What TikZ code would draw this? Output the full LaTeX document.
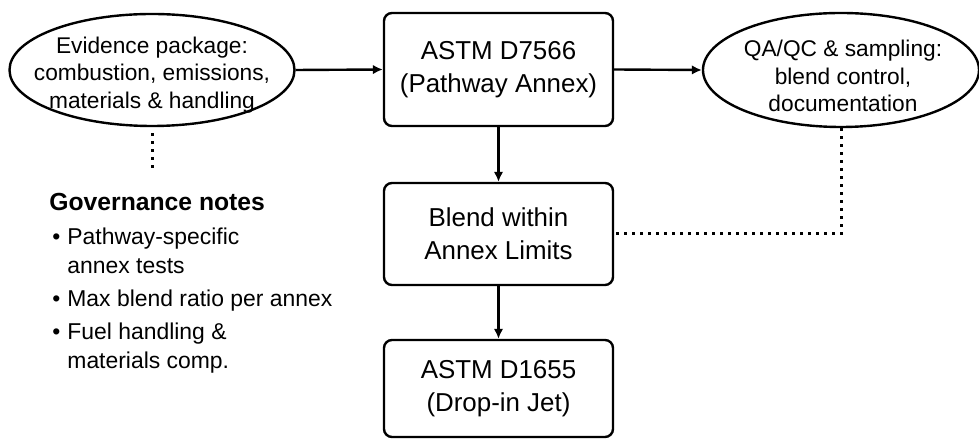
\documentclass[tikz,border=0pt]{standalone}
\usepackage{fontspec}
\setmainfont{Liberation Sans}
\usetikzlibrary{arrows.meta,shapes.geometric}

\tikzset{
  stdbox/.style={draw,line width=1.2bp,rounded corners=4bp,minimum width=114.5bp,
    align=center,inner sep=0pt,font=\fontsize{13}{16.5}\selectfont},
  oval/.style={draw,ellipse,line width=1.2bp,inner sep=0pt},
  ovaltext/.style={align=center,inner sep=0pt,font=\fontsize{11.4}{13.8}\selectfont},
  flow/.style={line width=1.2bp,-{Latex[length=5bp,width=4.8bp]}},
  dots/.style={line width=1.5bp,dash pattern=on 1.4bp off 2.6bp}
}

\begin{document}
\begin{tikzpicture}[x=0.5bp,y=-0.5bp]
\useasboundingbox (0,0) rectangle (979,439);

% ovals
\node[oval,minimum width=142.5bp,minimum height=56bp] (evid) at (152,70) {};
\node[ovaltext] (evidtxt) at (152,75) {Evidence package:\\combustion, emissions,\\materials \& handling};

\node[oval,minimum width=138bp,minimum height=57bp] (qaqc) at (841,70) {};
\node[ovaltext] (qaqctxt) at (843,76) {QA/QC \& sampling:\\blend control,\\documentation};

% main column
\node[stdbox,minimum height=56.5bp] (d7566) at (498.5,69.5) {ASTM D7566\\(Pathway Annex)};
\node[stdbox,minimum height=51bp] (blend) at (498.5,234) {Blend within\\Annex Limits};
\node[stdbox,minimum height=48.5bp] (d1655) at (498.5,388.5) {ASTM D1655\\(Drop-in Jet)};

% notes
\coordinate (govtop) at (152,173);
\node[anchor=base west,inner sep=0pt,font=\fontsize{12.4}{15}\selectfont\bfseries] (govhead) at (49,211) {Governance notes};
\node[anchor=base west,inner sep=0pt,font=\fontsize{11.5}{14.5}\selectfont] (govlist) at (52,245)
  {\begin{tabular}[t]{@{}l@{\hspace{3.5bp}}l@{}}
   \textbullet & Pathway-specific\\
               & annex tests\\[2bp]
   \textbullet & Max blend ratio per annex\\[2bp]
   \textbullet & Fuel handling \&\\
               & materials comp.
   \end{tabular}};

% connectors
\draw[flow] (evid.east) -- (d7566.west);
\draw[flow] (d7566.east) -- (qaqc.west);
\draw[flow] (d7566.south) -- (blend.north);
\draw[flow] (blend.south) -- (d1655.north);
\draw[dots,shorten <=3bp] (evid.south) -- (govtop);
\draw[dots] (qaqc.south) |- (blend.east);

\end{tikzpicture}
\end{document}
